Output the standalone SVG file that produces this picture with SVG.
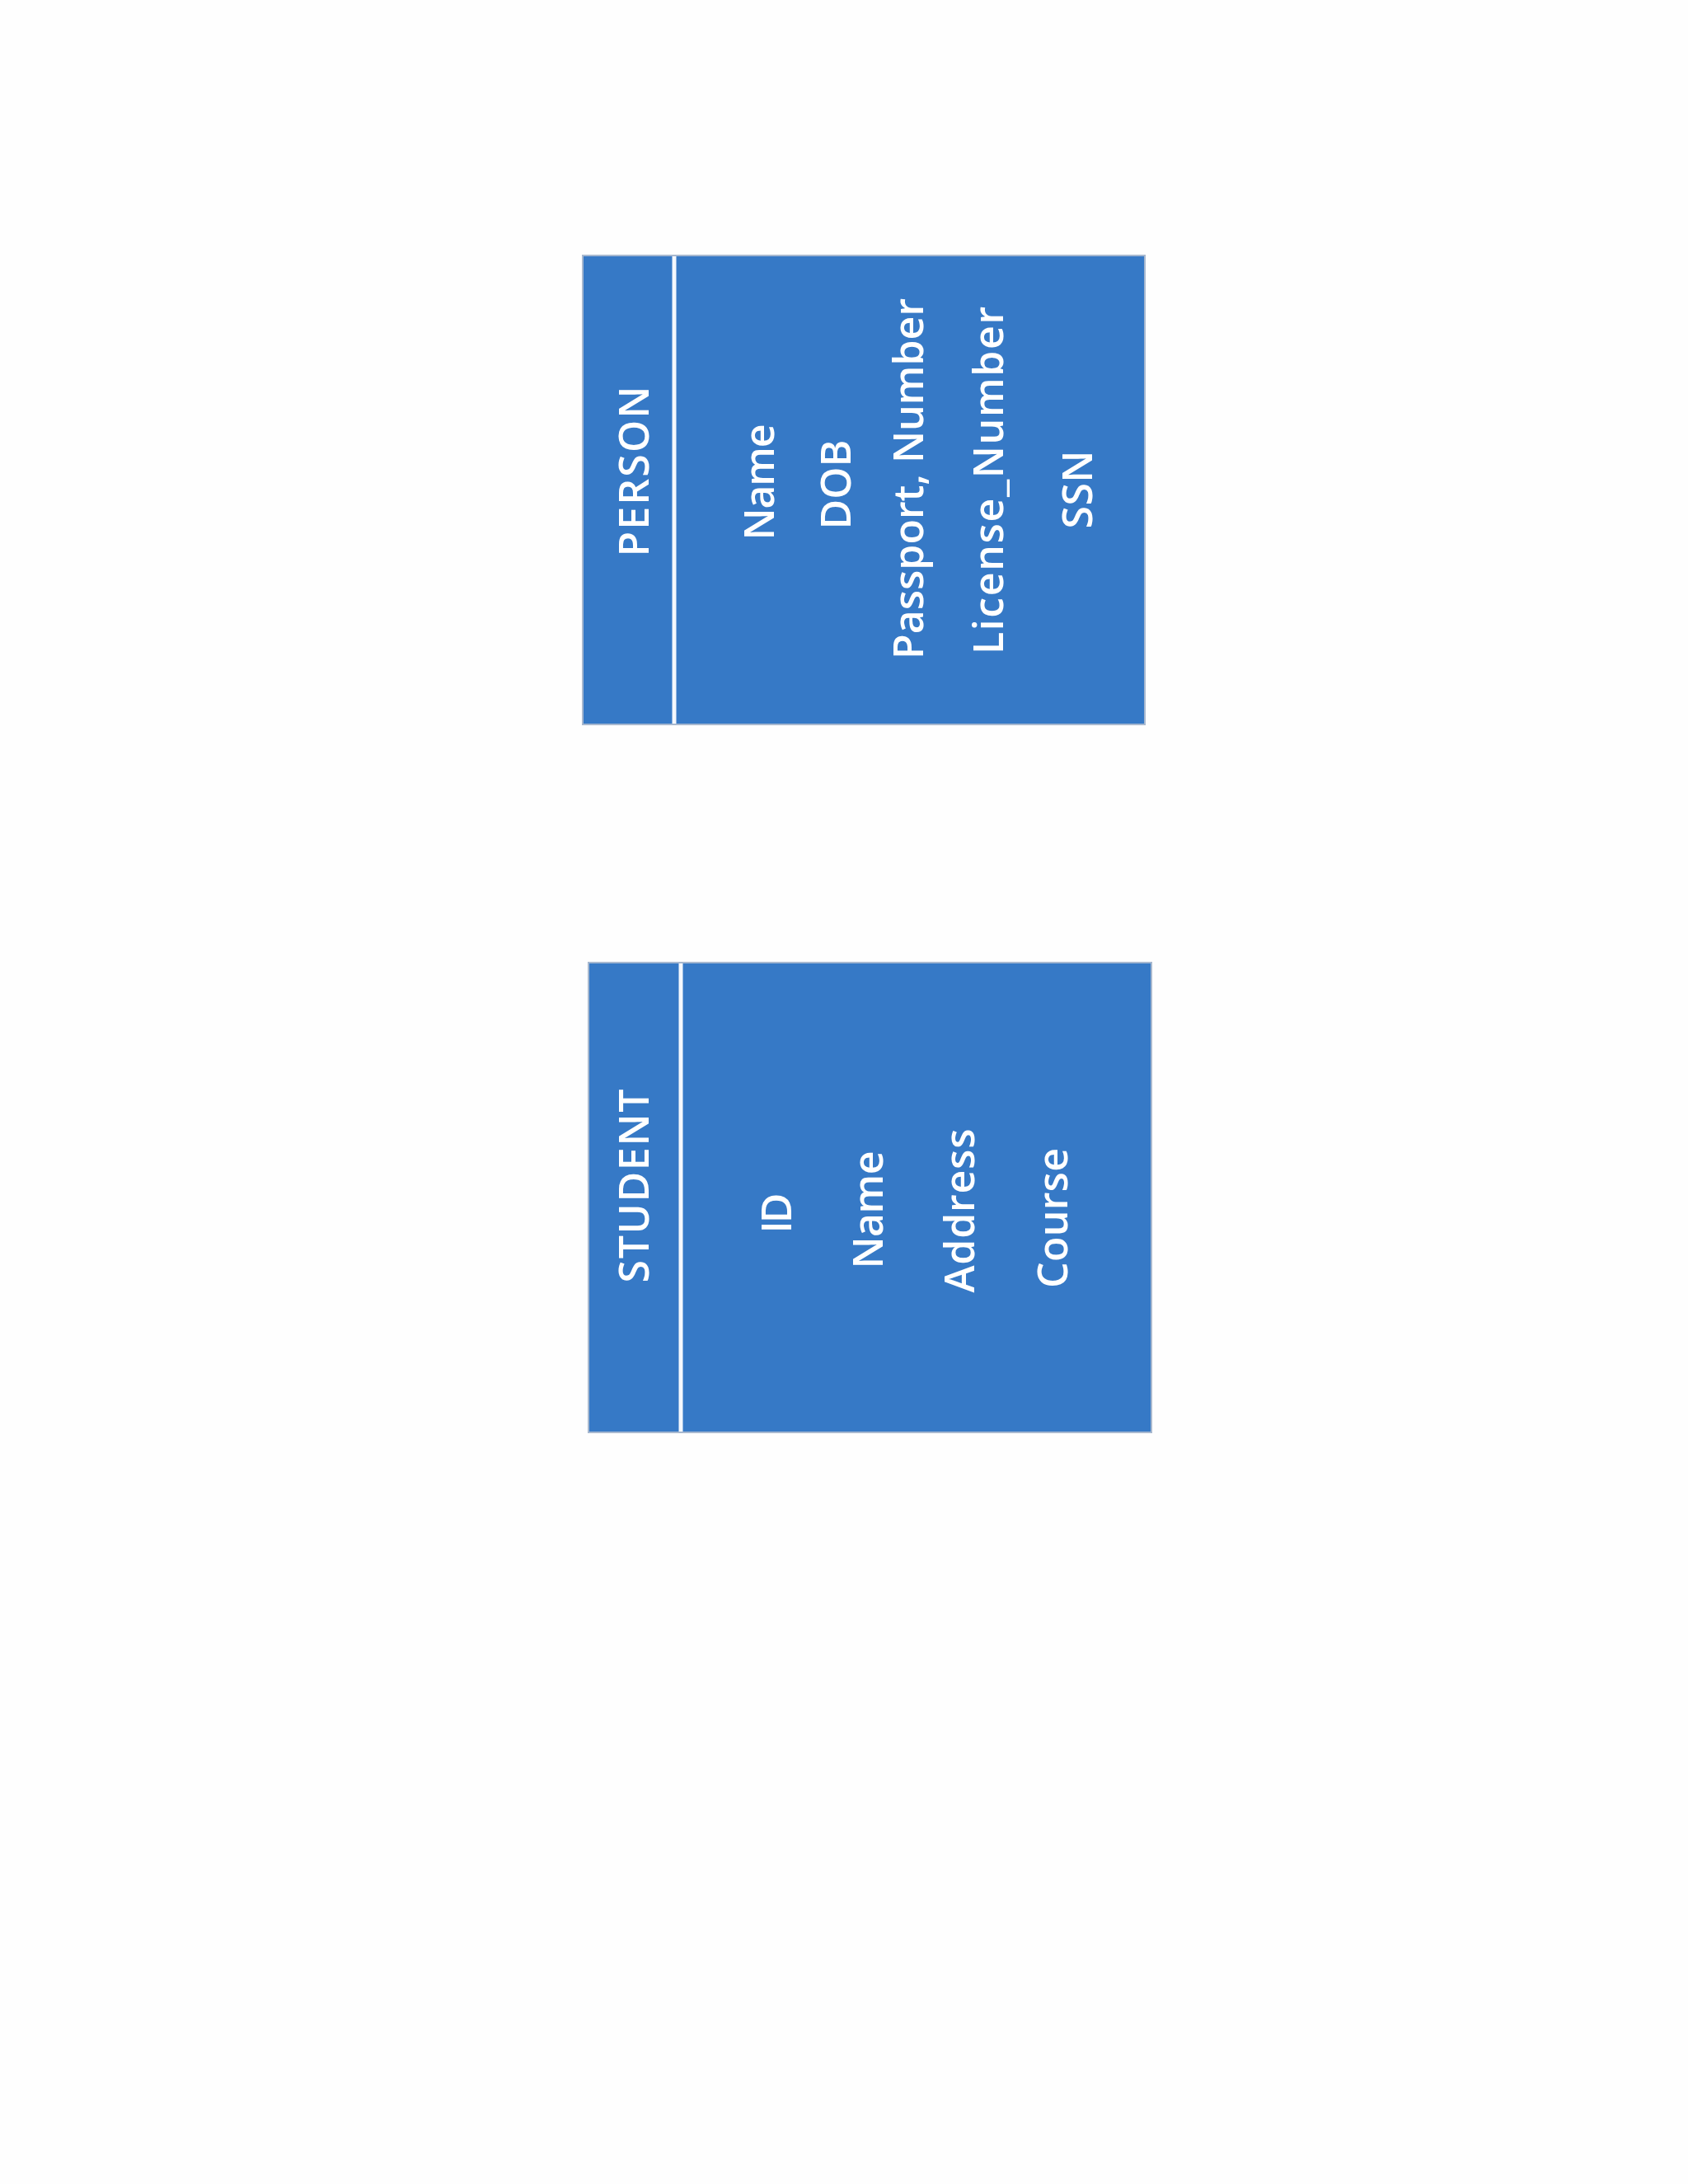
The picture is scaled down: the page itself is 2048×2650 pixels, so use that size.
<svg xmlns="http://www.w3.org/2000/svg" width="2048" height="2650" viewBox="0 0 2048 2650">
  <style>
    .box { fill: #3679c6; stroke: #a7b8cf; stroke-width: 2; }
    .sep { stroke: #f4f8fd; stroke-width: 5; }
    .t { fill: #ffffff; font-family: "Open Sans", "Noto Sans", sans-serif; font-size: 50px; font-weight: 600; text-anchor: middle; }
  </style>
  <rect x="0" y="0" width="2048" height="2650" fill="#fefefe"/>
  <g id="person">
    <rect class="box" x="707" y="310" width="682" height="569"/>
    <line class="sep" x1="818" y1="311" x2="818" y2="878"/>
    <text class="t" transform="translate(787,572) rotate(-90)" textLength="207">PERSON</text>
    <text class="t" transform="translate(939,585) rotate(-90)" textLength="141">Name</text>
    <text class="t" transform="translate(1032,588) rotate(-90)" textLength="109">DOB</text>
    <text class="t" transform="translate(1120,581) rotate(-90)" textLength="438">Passport, Number</text>
    <text class="t" transform="translate(1217,583) rotate(-90)" textLength="422">License_Number</text>
    <text class="t" transform="translate(1325,594) rotate(-90)" textLength="95">SSN</text>
  </g>
  <g id="student">
    <rect class="box" x="714" y="1168" width="683" height="570"/>
    <line class="sep" x1="826" y1="1169" x2="826" y2="1737"/>
    <text class="t" transform="translate(787,1439) rotate(-90)" textLength="235">STUDENT</text>
    <text class="t" transform="translate(960,1472) rotate(-90)" textLength="49">ID</text>
    <text class="t" transform="translate(1071,1468) rotate(-90)" textLength="143">Name</text>
    <text class="t" transform="translate(1182,1469) rotate(-90)" textLength="199">Address</text>
    <text class="t" transform="translate(1295,1478) rotate(-90)" textLength="170">Course</text>
  </g>
  <g id="connectors"></g>
</svg>
